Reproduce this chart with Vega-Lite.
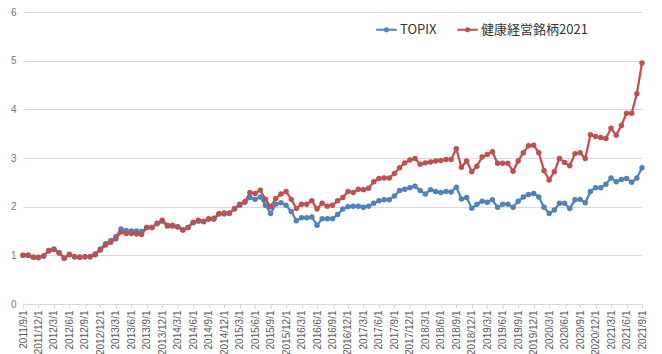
{
  "$schema": "https://vega.github.io/schema/vega-lite/v6.json",
  "width": 619,
  "height": 292,
  "autosize": {"type": "none"},
  "padding": {"left": 23, "top": 12, "right": 20, "bottom": 50},
  "background": "white",
  "config": {"view": {"stroke": null}, "font": "Liberation Sans"},
  "data": {
    "values": [
      {"date": "2011/9/1", "TOPIX": 1.00, "健康経営銘柄2021": 1.00},
      {"date": "2011/10/1", "TOPIX": 1.00, "健康経営銘柄2021": 1.00},
      {"date": "2011/11/1", "TOPIX": 0.96, "健康経営銘柄2021": 0.96},
      {"date": "2011/12/1", "TOPIX": 0.95, "健康経営銘柄2021": 0.96},
      {"date": "2012/1/1", "TOPIX": 0.98, "健康経営銘柄2021": 0.99},
      {"date": "2012/2/1", "TOPIX": 1.09, "健康経営銘柄2021": 1.10},
      {"date": "2012/3/1", "TOPIX": 1.13, "健康経営銘柄2021": 1.12},
      {"date": "2012/4/1", "TOPIX": 1.06, "健康経営銘柄2021": 1.05},
      {"date": "2012/5/1", "TOPIX": 0.94, "健康経営銘柄2021": 0.94},
      {"date": "2012/6/1", "TOPIX": 1.01, "健康経営銘柄2021": 1.02},
      {"date": "2012/7/1", "TOPIX": 0.97, "健康経営銘柄2021": 0.97},
      {"date": "2012/8/1", "TOPIX": 0.96, "健康経営銘柄2021": 0.96},
      {"date": "2012/9/1", "TOPIX": 0.97, "健康経営銘柄2021": 0.97},
      {"date": "2012/10/1", "TOPIX": 0.97, "健康経営銘柄2021": 0.97},
      {"date": "2012/11/1", "TOPIX": 1.03, "健康経営銘柄2021": 1.01},
      {"date": "2012/12/1", "TOPIX": 1.13, "健康経営銘柄2021": 1.11},
      {"date": "2013/1/1", "TOPIX": 1.24, "健康経営銘柄2021": 1.21},
      {"date": "2013/2/1", "TOPIX": 1.30, "健康経営銘柄2021": 1.27},
      {"date": "2013/3/1", "TOPIX": 1.38, "健康経営銘柄2021": 1.34},
      {"date": "2013/4/1", "TOPIX": 1.54, "健康経営銘柄2021": 1.48},
      {"date": "2013/5/1", "TOPIX": 1.51, "健康経営銘柄2021": 1.45},
      {"date": "2013/6/1", "TOPIX": 1.50, "健康経営銘柄2021": 1.45},
      {"date": "2013/7/1", "TOPIX": 1.50, "健康経営銘柄2021": 1.44},
      {"date": "2013/8/1", "TOPIX": 1.49, "健康経営銘柄2021": 1.43},
      {"date": "2013/9/1", "TOPIX": 1.57, "健康経営銘柄2021": 1.57},
      {"date": "2013/10/1", "TOPIX": 1.57, "健康経営銘柄2021": 1.57},
      {"date": "2013/11/1", "TOPIX": 1.65, "健康経営銘柄2021": 1.66},
      {"date": "2013/12/1", "TOPIX": 1.70, "健康経営銘柄2021": 1.72},
      {"date": "2014/1/1", "TOPIX": 1.60, "健康経営銘柄2021": 1.62},
      {"date": "2014/2/1", "TOPIX": 1.60, "健康経営銘柄2021": 1.62},
      {"date": "2014/3/1", "TOPIX": 1.58, "健康経営銘柄2021": 1.59},
      {"date": "2014/4/1", "TOPIX": 1.52, "健康経営銘柄2021": 1.52},
      {"date": "2014/5/1", "TOPIX": 1.57, "健康経営銘柄2021": 1.57},
      {"date": "2014/6/1", "TOPIX": 1.67, "健康経営銘柄2021": 1.68},
      {"date": "2014/7/1", "TOPIX": 1.70, "健康経営銘柄2021": 1.72},
      {"date": "2014/8/1", "TOPIX": 1.69, "健康経営銘柄2021": 1.70},
      {"date": "2014/9/1", "TOPIX": 1.74, "健康経営銘柄2021": 1.75},
      {"date": "2014/10/1", "TOPIX": 1.74, "健康経営銘柄2021": 1.76},
      {"date": "2014/11/1", "TOPIX": 1.85, "健康経営銘柄2021": 1.86},
      {"date": "2014/12/1", "TOPIX": 1.85, "健康経営銘柄2021": 1.87},
      {"date": "2015/1/1", "TOPIX": 1.86, "健康経営銘柄2021": 1.87},
      {"date": "2015/2/1", "TOPIX": 1.95, "健康経営銘柄2021": 1.96},
      {"date": "2015/3/1", "TOPIX": 2.03, "健康経営銘柄2021": 2.05},
      {"date": "2015/4/1", "TOPIX": 2.09, "健康経営銘柄2021": 2.10},
      {"date": "2015/5/1", "TOPIX": 2.19, "健康経営銘柄2021": 2.29},
      {"date": "2015/6/1", "TOPIX": 2.15, "健康経営銘柄2021": 2.27},
      {"date": "2015/7/1", "TOPIX": 2.20, "健康経営銘柄2021": 2.34},
      {"date": "2015/8/1", "TOPIX": 2.03, "健康経営銘柄2021": 2.15},
      {"date": "2015/9/1", "TOPIX": 1.86, "健康経営銘柄2021": 2.00},
      {"date": "2015/10/1", "TOPIX": 2.05, "健康経営銘柄2021": 2.17},
      {"date": "2015/11/1", "TOPIX": 2.08, "健康経営銘柄2021": 2.26},
      {"date": "2015/12/1", "TOPIX": 2.03, "健康経営銘柄2021": 2.31},
      {"date": "2016/1/1", "TOPIX": 1.90, "健康経営銘柄2021": 2.15},
      {"date": "2016/2/1", "TOPIX": 1.71, "健康経営銘柄2021": 1.96},
      {"date": "2016/3/1", "TOPIX": 1.77, "健康経営銘柄2021": 2.05},
      {"date": "2016/4/1", "TOPIX": 1.77, "健康経営銘柄2021": 2.05},
      {"date": "2016/5/1", "TOPIX": 1.79, "健康経営銘柄2021": 2.12},
      {"date": "2016/6/1", "TOPIX": 1.62, "健康経営銘柄2021": 1.95},
      {"date": "2016/7/1", "TOPIX": 1.75, "健康経営銘柄2021": 2.07},
      {"date": "2016/8/1", "TOPIX": 1.75, "健康経営銘柄2021": 2.01},
      {"date": "2016/9/1", "TOPIX": 1.75, "健康経営銘柄2021": 2.03},
      {"date": "2016/10/1", "TOPIX": 1.84, "健康経営銘柄2021": 2.12},
      {"date": "2016/11/1", "TOPIX": 1.95, "健康経営銘柄2021": 2.19},
      {"date": "2016/12/1", "TOPIX": 2.00, "健康経営銘柄2021": 2.31},
      {"date": "2017/1/1", "TOPIX": 2.01, "健康経営銘柄2021": 2.29},
      {"date": "2017/2/1", "TOPIX": 2.01, "健康経営銘柄2021": 2.36},
      {"date": "2017/3/1", "TOPIX": 1.99, "健康経営銘柄2021": 2.35},
      {"date": "2017/4/1", "TOPIX": 2.01, "健康経営銘柄2021": 2.38},
      {"date": "2017/5/1", "TOPIX": 2.07, "健康経営銘柄2021": 2.51},
      {"date": "2017/6/1", "TOPIX": 2.12, "健康経営銘柄2021": 2.58},
      {"date": "2017/7/1", "TOPIX": 2.14, "健康経営銘柄2021": 2.59},
      {"date": "2017/8/1", "TOPIX": 2.14, "健康経営銘柄2021": 2.59},
      {"date": "2017/9/1", "TOPIX": 2.22, "健康経営銘柄2021": 2.68},
      {"date": "2017/10/1", "TOPIX": 2.33, "健康経営銘柄2021": 2.80},
      {"date": "2017/11/1", "TOPIX": 2.36, "健康経営銘柄2021": 2.90},
      {"date": "2017/12/1", "TOPIX": 2.39, "健康経営銘柄2021": 2.96},
      {"date": "2018/1/1", "TOPIX": 2.42, "健康経営銘柄2021": 2.99},
      {"date": "2018/2/1", "TOPIX": 2.33, "健康経営銘柄2021": 2.87},
      {"date": "2018/3/1", "TOPIX": 2.26, "健康経営銘柄2021": 2.90},
      {"date": "2018/4/1", "TOPIX": 2.35, "健康経営銘柄2021": 2.92},
      {"date": "2018/5/1", "TOPIX": 2.31, "健康経営銘柄2021": 2.94},
      {"date": "2018/6/1", "TOPIX": 2.29, "健康経営銘柄2021": 2.95},
      {"date": "2018/7/1", "TOPIX": 2.31, "健康経営銘柄2021": 2.97},
      {"date": "2018/8/1", "TOPIX": 2.30, "健康経営銘柄2021": 2.97},
      {"date": "2018/9/1", "TOPIX": 2.40, "健康経営銘柄2021": 3.19},
      {"date": "2018/10/1", "TOPIX": 2.16, "健康経営銘柄2021": 2.81},
      {"date": "2018/11/1", "TOPIX": 2.19, "健康経営銘柄2021": 2.94},
      {"date": "2018/12/1", "TOPIX": 1.97, "健康経営銘柄2021": 2.72},
      {"date": "2019/1/1", "TOPIX": 2.05, "健康経営銘柄2021": 2.83},
      {"date": "2019/2/1", "TOPIX": 2.11, "健康経営銘柄2021": 3.02},
      {"date": "2019/3/1", "TOPIX": 2.09, "健康経営銘柄2021": 3.07},
      {"date": "2019/4/1", "TOPIX": 2.14, "健康経営銘柄2021": 3.13},
      {"date": "2019/5/1", "TOPIX": 1.99, "健康経営銘柄2021": 2.89},
      {"date": "2019/6/1", "TOPIX": 2.05, "健康経営銘柄2021": 2.89},
      {"date": "2019/7/1", "TOPIX": 2.05, "健康経営銘柄2021": 2.89},
      {"date": "2019/8/1", "TOPIX": 1.99, "健康経営銘柄2021": 2.73},
      {"date": "2019/9/1", "TOPIX": 2.11, "健康経営銘柄2021": 2.94},
      {"date": "2019/10/1", "TOPIX": 2.20, "健康経営銘柄2021": 3.11},
      {"date": "2019/11/1", "TOPIX": 2.25, "健康経営銘柄2021": 3.25},
      {"date": "2019/12/1", "TOPIX": 2.27, "健康経営銘柄2021": 3.26},
      {"date": "2020/1/1", "TOPIX": 2.20, "健康経営銘柄2021": 3.11},
      {"date": "2020/2/1", "TOPIX": 1.99, "健康経営銘柄2021": 2.74},
      {"date": "2020/3/1", "TOPIX": 1.86, "健康経営銘柄2021": 2.55},
      {"date": "2020/4/1", "TOPIX": 1.93, "健康経営銘柄2021": 2.72},
      {"date": "2020/5/1", "TOPIX": 2.07, "健康経営銘柄2021": 2.99},
      {"date": "2020/6/1", "TOPIX": 2.07, "健康経営銘柄2021": 2.91},
      {"date": "2020/7/1", "TOPIX": 1.96, "健康経営銘柄2021": 2.84},
      {"date": "2020/8/1", "TOPIX": 2.14, "健康経営銘柄2021": 3.09},
      {"date": "2020/9/1", "TOPIX": 2.15, "健康経営銘柄2021": 3.11},
      {"date": "2020/10/1", "TOPIX": 2.08, "健康経営銘柄2021": 2.99},
      {"date": "2020/11/1", "TOPIX": 2.31, "健康経営銘柄2021": 3.48},
      {"date": "2020/12/1", "TOPIX": 2.39, "健康経営銘柄2021": 3.44},
      {"date": "2021/1/1", "TOPIX": 2.39, "健康経営銘柄2021": 3.42},
      {"date": "2021/2/1", "TOPIX": 2.46, "健康経営銘柄2021": 3.40},
      {"date": "2021/3/1", "TOPIX": 2.59, "健康経営銘柄2021": 3.61},
      {"date": "2021/4/1", "TOPIX": 2.51, "健康経営銘柄2021": 3.47},
      {"date": "2021/5/1", "TOPIX": 2.56, "健康経営銘柄2021": 3.67},
      {"date": "2021/6/1", "TOPIX": 2.58, "健康経営銘柄2021": 3.92},
      {"date": "2021/7/1", "TOPIX": 2.50, "健康経営銘柄2021": 3.92},
      {"date": "2021/8/1", "TOPIX": 2.59, "健康経営銘柄2021": 4.32},
      {"date": "2021/9/1", "TOPIX": 2.80, "健康経営銘柄2021": 4.95}
    ]
  },
  "transform": [{"fold": ["TOPIX", "健康経営銘柄2021"], "as": ["series", "value"]}],
  "mark": {"type": "line", "strokeWidth": 2.25, "point": {"filled": true, "size": 30}},
  "encoding": {
    "x": {
      "field": "date",
      "type": "ordinal",
      "sort": null,
      "scale": {"type": "point", "padding": 0},
      "axis": {
        "title": null,
        "labelAngle": -90,
        "values": ["2011/9/1","2011/12/1","2012/3/1","2012/6/1","2012/9/1","2012/12/1","2013/3/1","2013/6/1","2013/9/1","2013/12/1","2014/3/1","2014/6/1","2014/9/1","2014/12/1","2015/3/1","2015/6/1","2015/9/1","2015/12/1","2016/3/1","2016/6/1","2016/9/1","2016/12/1","2017/3/1","2017/6/1","2017/9/1","2017/12/1","2018/3/1","2018/6/1","2018/9/1","2018/12/1","2019/3/1","2019/6/1","2019/9/1","2019/12/1","2020/3/1","2020/6/1","2020/9/1","2020/12/1","2021/3/1","2021/6/1","2021/9/1"],
        "labelFontSize": 10,
        "labelColor": "#595959",
        "domainColor": "#d9d9d9",
        "tickColor": "#d9d9d9",
        "tickSize": 4,
        "grid": false,
        "labelPadding": 2
      }
    },
    "y": {
      "field": "value",
      "type": "quantitative",
      "scale": {"domain": [0, 6]},
      "axis": {
        "title": null,
        "values": [0, 1, 2, 3, 4, 5, 6],
        "domain": false,
        "ticks": false,
        "gridColor": "#d9d9d9",
        "labelColor": "#767676",
        "labelFontSize": 10,
        "labelPadding": 7
      }
    },
    "color": {
      "field": "series",
      "type": "nominal",
      "scale": {"domain": ["TOPIX", "健康経営銘柄2021"], "range": ["#4F81BD", "#C0504D"]},
      "legend": {
        "title": null,
        "orient": "none",
        "legendX": 352,
        "legendY": 6,
        "direction": "horizontal",
        "symbolType": "M-1,0H1M-0.15,0A0.15,0.15,0,1,0,0.15,0A0.15,0.15,0,1,0,-0.15,0Z",
        "symbolSize": 420,
        "symbolStrokeWidth": 2,
        "labelFont": "Noto Sans CJK JP",
        "labelFontSize": 13,
        "labelColor": "#333333",
        "labelOffset": 2,
        "columnPadding": 16
      }
    }
  }
}
